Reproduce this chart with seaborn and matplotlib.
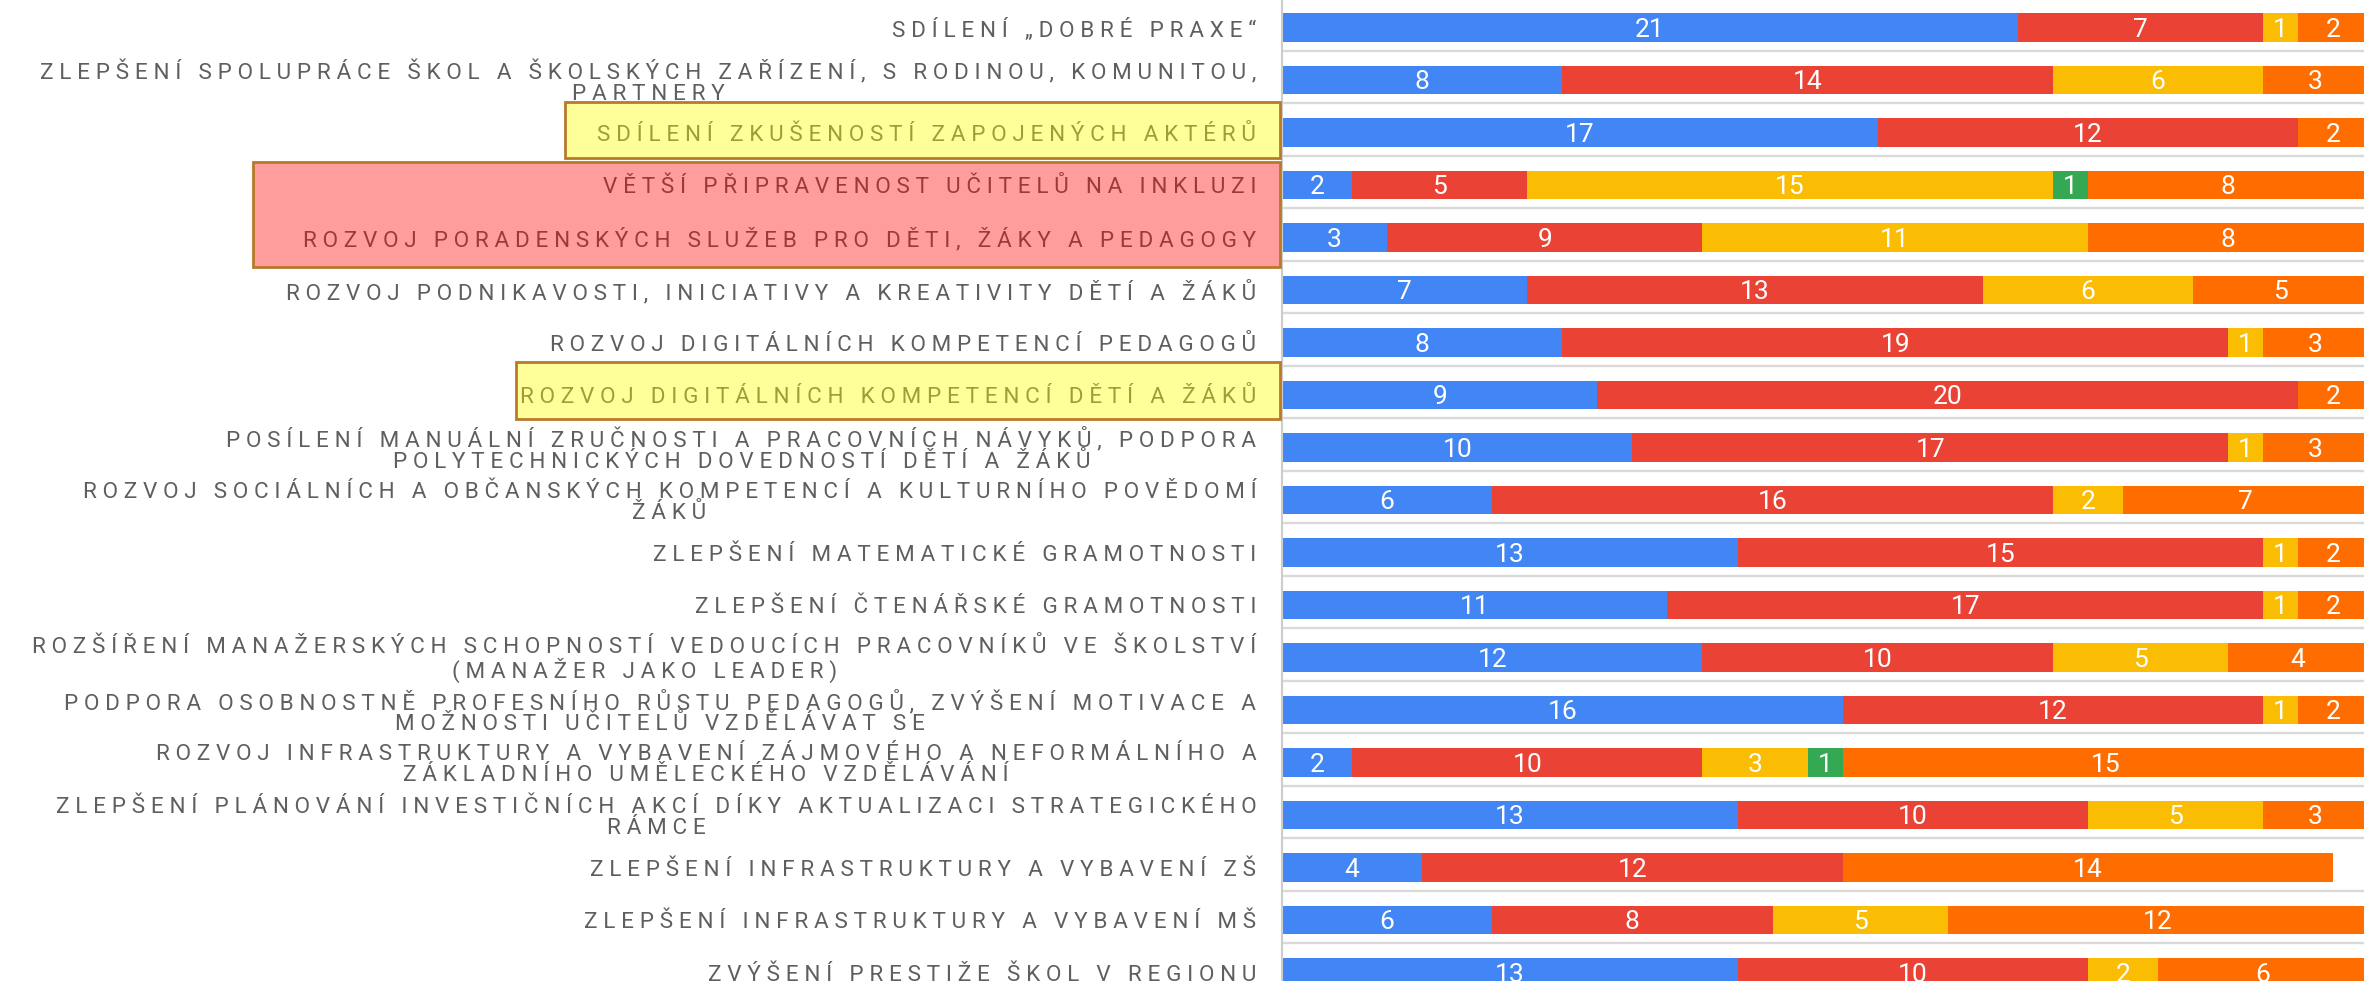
import numpy as np
import pandas as pd
import matplotlib
matplotlib.use("Agg")
import matplotlib.pyplot as plt
import seaborn as sns
from matplotlib.patches import Rectangle
from matplotlib.transforms import blended_transform_factory

# ---------------- data ----------------
categories = [
    "SDÍLENÍ „DOBRÉ PRAXE“",
    "ZLEPŠENÍ SPOLUPRÁCE ŠKOL A ŠKOLSKÝCH ZAŘÍZENÍ, S RODINOU, KOMUNITOU,\nPARTNERY",
    "SDÍLENÍ ZKUŠENOSTÍ ZAPOJENÝCH AKTÉRŮ",
    "VĚTŠÍ PŘIPRAVENOST UČITELŮ NA INKLUZI",
    "ROZVOJ PORADENSKÝCH SLUŽEB PRO DĚTI, ŽÁKY A PEDAGOGY",
    "ROZVOJ PODNIKAVOSTI, INICIATIVY A KREATIVITY DĚTÍ A ŽÁKŮ",
    "ROZVOJ DIGITÁLNÍCH KOMPETENCÍ PEDAGOGŮ",
    "ROZVOJ DIGITÁLNÍCH KOMPETENCÍ DĚTÍ A ŽÁKŮ",
    "POSÍLENÍ MANUÁLNÍ ZRUČNOSTI A PRACOVNÍCH NÁVYKŮ, PODPORA\nPOLYTECHNICKÝCH DOVEDNOSTÍ DĚTÍ A ŽÁKŮ",
    "ROZVOJ SOCIÁLNÍCH A OBČANSKÝCH KOMPETENCÍ A KULTURNÍHO POVĚDOMÍ\nŽÁKŮ",
    "ZLEPŠENÍ MATEMATICKÉ GRAMOTNOSTI",
    "ZLEPŠENÍ ČTENÁŘSKÉ GRAMOTNOSTI",
    "ROZŠÍŘENÍ MANAŽERSKÝCH SCHOPNOSTÍ VEDOUCÍCH PRACOVNÍKŮ VE ŠKOLSTVÍ\n(MANAŽER JAKO LEADER)",
    "PODPORA OSOBNOSTNĚ PROFESNÍHO RŮSTU PEDAGOGŮ, ZVÝŠENÍ MOTIVACE A\nMOŽNOSTI UČITELŮ VZDĚLÁVAT SE",
    "ROZVOJ INFRASTRUKTURY A VYBAVENÍ ZÁJMOVÉHO A NEFORMÁLNÍHO A\nZÁKLADNÍHO UMĚLECKÉHO VZDĚLÁVÁNÍ",
    "ZLEPŠENÍ PLÁNOVÁNÍ INVESTIČNÍCH AKCÍ DÍKY AKTUALIZACI STRATEGICKÉHO\nRÁMCE",
    "ZLEPŠENÍ INFRASTRUKTURY A VYBAVENÍ ZŠ",
    "ZLEPŠENÍ INFRASTRUKTURY A VYBAVENÍ MŠ",
    "ZVÝŠENÍ PRESTIŽE ŠKOL V REGIONU",
]
series_blue   = [21, 8, 17, 2, 3, 7, 8, 9, 10, 6, 13, 11, 12, 16, 2, 13, 4, 6, 13]
series_red    = [7, 14, 12, 5, 9, 13, 19, 20, 17, 16, 15, 17, 10, 12, 10, 10, 12, 8, 10]
series_yellow = [1, 6, 0, 15, 11, 6, 1, 0, 1, 2, 1, 1, 5, 1, 3, 5, 0, 5, 2]
series_green  = [0, 0, 0, 1, 0, 0, 0, 0, 0, 0, 0, 0, 0, 0, 1, 0, 0, 0, 0]
series_orange = [2, 3, 2, 8, 8, 5, 3, 2, 3, 7, 2, 2, 4, 2, 15, 3, 14, 12, 6]

series_names = ["blue", "red", "yellow", "green", "orange"]
colors = ["#4285F4", "#EA4335", "#FBBC04", "#34A853", "#FF6D01"]

df = pd.DataFrame({
    "category": categories,
    "blue": series_blue,
    "red": series_red,
    "yellow": series_yellow,
    "green": series_green,
    "orange": series_orange,
})
cum = df[series_names].cumsum(axis=1)

# ---------------- style ----------------
sns.set_style("white")
plt.rcParams["font.family"] = ["Roboto", "DejaVu Sans"]

W, H = 2364, 981
fig = plt.figure(figsize=(W / 100, H / 100), dpi=100)
ax_left = 1282 / W
ax = fig.add_axes([ax_left, 0, 1 - ax_left, 1])

n = len(categories)

# horizontal separator lines
for g in np.arange(-1, n) + 0.442:
    ax.axhline(g, color="#d9d9d9", lw=1.7, zorder=0)

# stacked bars: draw cumulative totals from the last series to the first
for k in reversed(range(len(series_names))):
    sns.barplot(
        x=cum[series_names[k]].values,
        y=df["category"],
        orient="h",
        color=colors[k],
        saturation=1,
        width=0.54,
        linewidth=0,
        ax=ax,
        zorder=2,
    )

# value labels in segment centers
for i in range(n):
    left = 0
    for k, name in enumerate(series_names):
        v = df[name].iloc[i]
        if v > 0:
            ax.text(left + v / 2, i + 0.04, str(v), ha="center", va="center",
                    color="white", fontsize=19, zorder=3)
        left += v

ax.set_xlim(0, 30.88)
ax.set_ylim(18.16, -0.524)


def spaced(s):
    # emulate the letter-spacing of the original axis labels
    return "\n".join("\u2005".join(line) for line in s.split("\n"))


ax.set_yticks(range(n))
ax.set_yticklabels([spaced(c) for c in categories], fontsize=16.2,
                   color="#5f5f5f", multialignment="center", linespacing=1.0)
ax.tick_params(axis="y", length=0, pad=18.5)
ax.set_xticks([])
ax.set_xlabel("")
ax.set_ylabel("")
for s in ["top", "right", "bottom"]:
    ax.spines[s].set_visible(False)
ax.spines["left"].set_color("#cccccc")
ax.spines["left"].set_linewidth(1.5)

# highlight boxes over some labels (semi-transparent fill, opaque border)
tr = blended_transform_factory(fig.transFigure, ax.transData)
highlights = [
    (565 / W, 1.413, 2.491, "#ffff00", 0.40),
    (253 / W, 2.556, 4.556, "#ff0000", 0.385),
    (516 / W, 6.366, 7.463, "#ffff00", 0.40),
]
x_right = 1280 / W
for x0, y0, y1, fc, a in highlights:
    fig.patches.append(Rectangle((x0, y0), x_right - x0, y1 - y0, transform=tr,
                                 facecolor=fc, alpha=a, edgecolor="none", zorder=5))
    fig.patches.append(Rectangle((x0, y0), x_right - x0, y1 - y0, transform=tr,
                                 facecolor="none", edgecolor="#b8792a", lw=2.0, zorder=6))

fig.savefig("out.png", dpi=100)
